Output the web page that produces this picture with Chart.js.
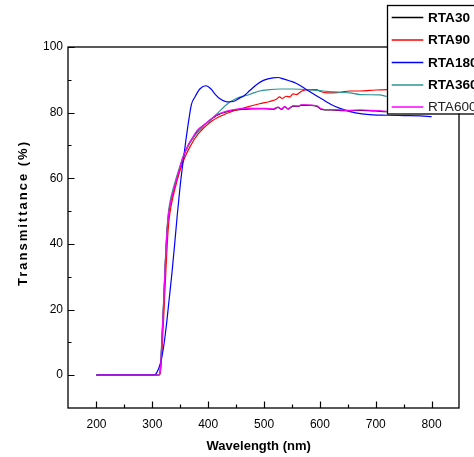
<!DOCTYPE html>
<html>
<head>
<meta charset="utf-8">
<script src="https://cdn.jsdelivr.net/npm/chart.js@4"></script>
<style>
  html, body { margin: 0; padding: 0; background: #fff; }
  #wrap { width: 474px; height: 457px; }
</style>
</head>
<body>
<div id="wrap"><canvas id="c" width="474" height="457"></canvas></div>
<script>
// ---- data ----
const seriesLabels = ["RTA30", "RTA90", "RTA180", "RTA360", "RTA600"];
const xTickLabels = [200, 300, 400, 500, 600, 700, 800];
const yTickLabels = [0, 20, 40, 60, 80, 100];

const rta30_wl = [200, 310, 313, 315, 317, 320, 323, 326, 329, 333, 340, 348, 355, 365, 373, 380, 397, 415, 439, 469, 500, 516, 525, 531, 537, 543, 552, 561, 567, 580, 594, 603, 620, 654, 672, 700, 719, 750, 800];
const rta30_T  = [0, 0, 0.3, 3, 10, 21, 33, 43, 49, 53, 57.3, 62.3, 66.3, 70.2, 72.3, 74.3, 76.8, 79.1, 80.5, 81.1, 81.2, 81.0, 81.6, 81.0, 81.8, 81.1, 82.0, 81.9, 82.3, 82.2, 82.0, 81.0, 80.8, 80.6, 80.7, 80.5, 80.3, 80.2, 80.0];

const rta90_wl = [200, 311, 314, 316, 318, 321, 324, 327, 330, 334, 340, 348, 356, 367, 382, 403, 427, 445, 469, 492, 510, 522, 528, 532, 540, 546, 552, 558, 567, 576, 594, 600, 612, 636, 654, 672, 700, 719, 750, 800];
const rta90_T  = [0, 0, 0.5, 4, 10, 20, 31, 41, 47.5, 52, 56.5, 61.5, 65.5, 69.5, 73.5, 77, 79.3, 80.5, 81.7, 82.7, 83.4, 84.1, 84.8, 84.3, 85.0, 84.8, 85.7, 85.5, 86.5, 87.0, 87.0, 86.5, 86.0, 86.2, 86.6, 86.6, 86.9, 87.0, 87.2, 87.5];

const rta180_wl = [200, 302, 306, 310, 315, 320, 325, 330, 335, 340, 345, 350, 355, 360, 365, 370, 376, 385, 396, 405, 413, 421, 433, 445, 457, 463, 475, 487, 500, 516, 525, 534, 545, 558, 576, 590, 606, 620, 636, 654, 675, 695, 720, 750, 780, 800];
const rta180_T  = [0, 0, 0.3, 1.5, 4, 8.5, 15, 23, 31, 40, 49.5, 58, 65, 71.5, 77.5, 82.5, 84.7, 87.2, 88.2, 87.2, 85.5, 84.2, 83.3, 83.4, 84.5, 85.0, 86.8, 88.6, 89.9, 90.6, 90.7, 90.3, 89.7, 88.9, 87.0, 85.5, 83.9, 82.5, 81.3, 80.3, 79.6, 79.3, 79.2, 79.1, 79.0, 78.8];

const rta360_wl = [200, 310, 313, 315, 317, 320, 323, 326, 329, 333, 340, 348, 356, 366, 376, 391, 405, 415, 433, 450, 475, 492, 510, 528, 550, 576, 600, 612, 636, 654, 672, 707, 719, 750, 800];
const rta360_T  = [0, 0, 0.5, 4, 11, 22, 34, 44, 50, 54, 58.5, 63, 67, 70.5, 73, 75.8, 78, 79.5, 82.5, 84.3, 85.6, 86.6, 87.0, 87.2, 87.2, 87.0, 86.7, 86.5, 86.2, 86.0, 85.5, 85.4, 85.0, 84.8, 84.5];

const rta600_wl = [200, 310, 313, 315, 317, 320, 323, 326, 329, 333, 340, 348, 355, 365, 373, 380, 397, 415, 439, 469, 500, 516, 525, 531, 537, 543, 552, 561, 567, 580, 594, 603, 620, 654, 672, 700, 719, 750, 800];
const rta600_T  = [0, 0, 0.3, 3, 10, 21, 33, 43, 49, 53, 57.5, 62.5, 66.5, 70.5, 72.7, 74.5, 76.9, 79.3, 80.7, 81.3, 81.3, 81.1, 81.7, 81.1, 81.9, 81.2, 82.1, 82.0, 82.4, 82.3, 82.1, 81.1, 80.9, 80.7, 80.8, 80.6, 80.4, 80.3, 80.1];

const seriesColors = ["#000000", "#ff0000", "#0000ff", "#2e9494", "#ff00ff"];
const seriesBold = [true, true, true, true, false];

function pts(wl, t) { return wl.map((w, i) => ({ x: w, y: t[i] })); }
const allData = [
  pts(rta30_wl, rta30_T),
  pts(rta90_wl, rta90_T),
  pts(rta180_wl, rta180_T),
  pts(rta360_wl, rta360_T),
  pts(rta600_wl, rta600_T)
];
const drawOrder = [5, 3, 1, 2, 0];

const FONT = "'Liberation Sans', Arial, sans-serif";

const decor = {
  id: 'decor',
  afterDatasetsDraw(chart) {
    const { ctx, chartArea: { left, right, top, bottom }, scales: { x, y } } = chart;
    ctx.save();
    ctx.strokeStyle = '#000';
    ctx.lineWidth = 1.3;
    ctx.strokeRect(left, top, right - left, bottom - top);
    ctx.lineWidth = 1.2;
    ctx.beginPath();
    // x ticks, inward
    for (let v = 200; v <= 800; v += 50) {
      const px = Math.round(x.getPixelForValue(v)) + 0.5;
      const len = (v % 100 === 0) ? 6.5 : 3.5;
      ctx.moveTo(px, bottom);
      ctx.lineTo(px, bottom - len);
    }
    // y ticks, inward
    for (let v = 0; v <= 100; v += 10) {
      const py = Math.round(y.getPixelForValue(v)) + 0.5;
      const len = (v % 20 === 0) ? 6.5 : 3.5;
      ctx.moveTo(left, py);
      ctx.lineTo(left + len, py);
    }
    ctx.stroke();

    // axis titles
    ctx.fillStyle = '#000';
    ctx.font = "bold 13px " + FONT;
    ctx.textAlign = 'center';
    ctx.textBaseline = 'alphabetic';
    ctx.fillText('Wavelength (nm)', 258.7, 449.5);

    ctx.save();
    ctx.translate(27, 214);
    ctx.rotate(-Math.PI / 2);
    try { ctx.letterSpacing = '2px'; } catch (e) {}
    ctx.fillText('Transmittance (%)', 1, 0);
    ctx.restore();

    // legend box
    const lx = 387, ly = 5, lh = 108.5;
    ctx.fillStyle = '#fff';
    ctx.fillRect(lx, ly, 120, lh);
    ctx.strokeStyle = '#000';
    ctx.lineWidth = 1.3;
    ctx.strokeRect(lx + 0.5, ly + 0.5, 120, lh);
    const rowY = [17.5, 40, 62.5, 85, 107];
    ctx.textAlign = 'left';
    ctx.textBaseline = 'middle';
    seriesLabels.forEach((lab, i) => {
      ctx.strokeStyle = seriesColors[i];
      ctx.lineWidth = 1.6;
      ctx.beginPath();
      ctx.moveTo(391.7, rowY[i]);
      ctx.lineTo(423.3, rowY[i]);
      ctx.stroke();
      ctx.fillStyle = seriesBold[i] ? '#000' : '#222';
      ctx.font = (seriesBold[i] ? 'bold ' : '') + '13.6px ' + FONT;
      ctx.fillText(lab, 428, rowY[i] + 0.5);
    });
    ctx.restore();
  }
};

new Chart(document.getElementById('c'), {
  type: 'line',
  data: {
    datasets: seriesLabels.map((lab, i) => ({
      label: lab,
      data: allData[i],
      borderColor: seriesColors[i],
      backgroundColor: seriesColors[i],
      borderWidth: 1.2,
      pointRadius: 0,
      fill: false,
      cubicInterpolationMode: 'monotone',
      order: drawOrder[i]
    }))
  },
  options: {
    responsive: false,
    devicePixelRatio: 1,
    animation: false,
    layout: { padding: { top: 47, right: 15, left: 0, bottom: 0 } },
    plugins: { legend: { display: false }, tooltip: { enabled: false } },
    scales: {
      x: {
        type: 'linear',
        min: 149,
        max: 849,
        afterFit(s) { s.height = 49; },
        afterBuildTicks(s) { s.ticks = xTickLabels.map(v => ({ value: v })); },
        grid: { display: false, drawTicks: false },
        border: { display: false },
        ticks: { color: '#000', font: { family: FONT, size: 12 }, padding: 9, maxRotation: 0, autoSkip: false }
      },
      y: {
        type: 'linear',
        min: -10,
        max: 100,
        afterFit(s) { s.width = 68; },
        afterBuildTicks(s) { s.ticks = yTickLabels.map(v => ({ value: v })); },
        grid: { display: false, drawTicks: false },
        border: { display: false },
        ticks: { color: '#000', font: { family: FONT, size: 12 }, padding: 5, autoSkip: false }
      }
    }
  },
  plugins: [decor]
});
</script>
</body>
</html>
